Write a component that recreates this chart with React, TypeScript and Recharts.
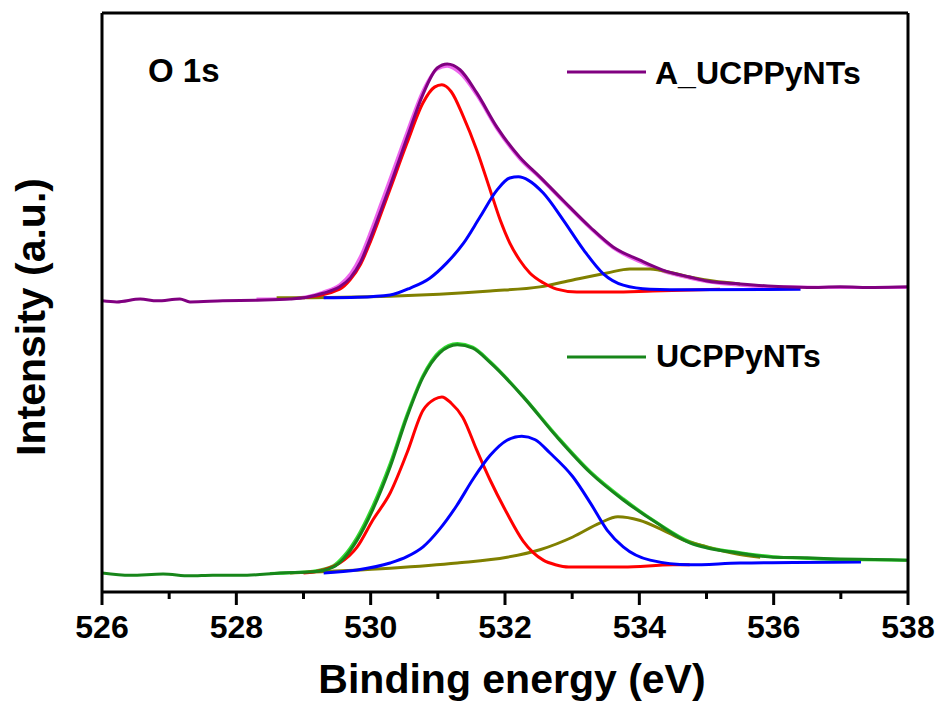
import React from 'react';
import { LineChart, Line, XAxis, YAxis } from 'recharts';

// ---------- tick values ----------
const xTicks = [526, 527, 528, 529, 530, 531, 532, 533, 534, 535, 536, 537, 538];

// ---------- A_UCPPyNTs (upper spectrum) ----------
const aRawE = [526.0, 526.22, 526.57, 526.82, 527.16, 527.31, 527.8, 528.31, 528.8, 529.05, 529.29, 529.54, 529.7, 529.85, 530.0, 530.15, 530.29, 530.54, 530.78, 530.99, 531.14, 531.33, 531.58, 531.88, 532.22, 532.52, 532.86, 533.27, 533.61, 534.01, 534.35, 534.75, 535.01, 535.5, 535.99, 536.5, 536.99, 537.5, 538.0];
const aRawI = [50.3, 50.1, 50.6, 50.3, 50.6, 50.1, 50.3, 50.4, 50.6, 50.9, 51.6, 52.7, 54.3, 57.0, 61.2, 65.8, 70.2, 78.4, 86.0, 90.5, 91.2, 90.2, 86.2, 80.3, 75.1, 71.7, 67.7, 63.0, 59.6, 57.3, 55.6, 54.4, 53.7, 53.2, 52.8, 52.6, 52.7, 52.6, 52.7];

const aFitE = [528.3, 528.8, 529.05, 529.29, 529.54, 529.7, 529.85, 530.0, 530.15, 530.29, 530.54, 530.78, 530.99, 531.14, 531.33, 531.58, 531.88, 532.22, 532.52, 532.86, 533.27, 533.61, 534.01, 534.35, 534.75, 535.01, 535.5, 535.99, 536.99, 537.98];
const aFitI = [50.6, 50.7, 51.0, 51.8, 53.1, 55.0, 58.0, 62.3, 67.0, 71.4, 79.4, 86.6, 90.3, 90.8, 89.6, 85.8, 80.0, 74.8, 71.5, 67.5, 62.8, 59.4, 57.0, 55.4, 54.2, 53.6, 53.0, 52.7, 52.6, 52.6];

const aPeak1E = [529.0, 529.54, 529.7, 529.85, 530.0, 530.15, 530.29, 530.54, 530.78, 530.95, 531.06, 531.2, 531.38, 531.58, 531.78, 531.93, 532.07, 532.22, 532.37, 532.57, 532.77, 533.07, 533.6, 534.2, 535.2];
const aPeak1I = [50.8, 52.3, 54.0, 56.6, 60.6, 65.2, 69.6, 77.5, 84.5, 87.2, 87.6, 86.4, 82.1, 76.3, 69.4, 64.2, 60.3, 57.3, 55.1, 53.4, 52.3, 51.8, 51.8, 52.0, 52.3];

const aPeak2E = [529.3, 529.8, 530.29, 530.59, 530.88, 531.13, 531.38, 531.63, 531.88, 532.07, 532.2, 532.35, 532.57, 532.87, 533.17, 533.46, 533.76, 534.16, 534.75, 536.4];
const aPeak2I = [50.8, 50.9, 51.3, 52.5, 54.2, 56.8, 60.2, 64.8, 69.4, 71.5, 71.7, 71.1, 68.9, 64.2, 59.1, 55.0, 53.0, 52.3, 52.2, 52.3];

const aPeak3E = [528.6, 530.29, 531.78, 532.52, 533.01, 533.52, 533.86, 534.16, 534.5, 534.75, 535.1, 535.5];
const aPeak3I = [50.8, 51.1, 52.0, 52.7, 53.9, 55.1, 55.8, 55.8, 55.1, 54.4, 53.7, 53.2];

// ---------- UCPPyNTs (lower spectrum) ----------
const uRawE = [526.0, 526.42, 526.91, 527.31, 527.65, 528.16, 528.65, 529.14, 529.44, 529.6, 529.8, 530.03, 530.29, 530.54, 530.78, 531.03, 531.29, 531.52, 531.78, 532.27, 532.77, 533.27, 533.76, 534.26, 534.75, 535.01, 535.5, 535.99, 536.5, 536.99, 537.5, 538.0];
const uRawI = [3.3, 2.9, 3.1, 2.8, 2.9, 2.9, 3.3, 3.5, 4.3, 5.8, 9.0, 14.2, 21.6, 30.2, 37.1, 41.3, 42.7, 42.1, 39.6, 33.7, 26.8, 20.6, 15.9, 11.9, 8.5, 7.6, 6.7, 6.0, 5.9, 5.7, 5.6, 5.5];

const uFitE = [528.5, 529.14, 529.44, 529.6, 529.8, 530.03, 530.29, 530.54, 530.78, 531.03, 531.29, 531.52, 531.78, 532.27, 532.77, 533.27, 533.76, 534.26, 534.75, 535.01, 535.5, 535.99, 536.5, 536.99, 537.98];
const uFitI = [3.2, 3.6, 4.5, 6.2, 9.5, 14.8, 22.2, 30.6, 37.4, 41.6, 42.9, 42.3, 39.8, 33.8, 27.0, 20.8, 16.1, 12.0, 8.7, 7.8, 6.8, 6.1, 5.8, 5.6, 5.5];

const uPeak1E = [529.0, 529.29, 529.54, 529.8, 530.03, 530.29, 530.54, 530.78, 530.95, 531.06, 531.2, 531.37, 531.58, 531.78, 532.03, 532.27, 532.42, 532.57, 532.75, 532.95, 533.76, 534.5, 534.75];
const uPeak1I = [3.3, 3.8, 5.0, 7.8, 12.4, 17.1, 24.0, 31.4, 33.3, 33.7, 32.6, 30.2, 24.5, 19.3, 13.6, 8.8, 6.8, 5.5, 4.7, 4.3, 4.3, 4.7, 4.7];

const uPeak2E = [529.3, 529.8, 530.29, 530.54, 530.78, 531.03, 531.28, 531.53, 531.78, 532.03, 532.25, 532.45, 532.67, 533.01, 533.27, 533.52, 533.76, 534.16, 534.75, 535.5, 537.3];
const uPeak2I = [3.3, 3.8, 5.0, 6.1, 7.8, 10.9, 14.9, 19.6, 23.6, 26.2, 26.9, 26.3, 24.0, 19.9, 15.4, 10.7, 7.8, 5.5, 4.7, 5.0, 5.2];

const uPeak3E = [528.8, 530.29, 531.29, 532.03, 532.52, 533.01, 533.41, 533.68, 534.0, 534.35, 534.65, 535.0, 535.4, 535.8];
const uPeak3I = [3.3, 4.1, 5.0, 6.0, 7.3, 9.5, 11.9, 13.0, 12.4, 10.7, 9.0, 7.8, 6.7, 6.0];

const zip = (es: number[], is: number[]) => es.map((e, i) => ({ x: e, y: is[i] }));

const FONT = '"Liberation Sans", Arial, sans-serif';

const series = [
  { key: 'aFit', data: zip(aFitE, aFitI), color: '#EE66EE' },
  { key: 'aP3', data: zip(aPeak3E, aPeak3I), color: '#808000' },
  { key: 'aP1', data: zip(aPeak1E, aPeak1I), color: '#FF0000' },
  { key: 'aP2', data: zip(aPeak2E, aPeak2I), color: '#0000FF' },
  { key: 'aRaw', data: zip(aRawE, aRawI), color: '#800080' },
  { key: 'uFit', data: zip(uFitE, uFitI), color: '#33DD33' },
  { key: 'uP3', data: zip(uPeak3E, uPeak3I), color: '#808000' },
  { key: 'uP1', data: zip(uPeak1E, uPeak1I), color: '#FF0000' },
  { key: 'uP2', data: zip(uPeak2E, uPeak2I), color: '#0000FF' },
  { key: 'uRaw', data: zip(uRawE, uRawI), color: '#17861A' },
];

const XTick = (props: any) => {
  const { x, y, payload } = props;
  const v = payload.value as number;
  const major = v % 2 === 0;
  return (
    <g>
      <line x1={x} x2={x} y1={y} y2={y + (major ? 13 : 7)} stroke="#000" strokeWidth={3} />
      {major && (
        <text x={x} y={y + 46} textAnchor="middle" fontFamily={FONT} fontWeight="bold" fontSize={32} fill="#000">
          {v}
        </text>
      )}
    </g>
  );
};

export default function App() {
  return (
    <div style={{ position: 'absolute', left: 0, top: 0, width: 942, height: 709, background: '#fff' }}>
      <LineChart
        width={942}
        height={709}
        margin={{ top: 12, right: 33, bottom: 116, left: 101 }}
      >
        <XAxis
          type="number"
          dataKey="x"
          domain={[526, 538]}
          ticks={xTicks}
          interval={0}
          allowDataOverflow
          height={1}
          tickSize={0}
          tickMargin={0}
          tickLine={false}
          tick={<XTick />}
          axisLine={{ stroke: '#000', strokeWidth: 3 }}
        />
        <XAxis
          xAxisId="top"
          orientation="top"
          type="number"
          dataKey="x"
          domain={[526, 538]}
          height={1}
          tick={false}
          tickLine={false}
          axisLine={{ stroke: '#000', strokeWidth: 3 }}
        />
        <YAxis
          type="number"
          domain={[0, 100]}
          allowDataOverflow
          width={1}
          tick={false}
          tickLine={false}
          axisLine={{ stroke: '#000', strokeWidth: 3 }}
        />
        <YAxis
          yAxisId="right"
          orientation="right"
          type="number"
          domain={[0, 100]}
          width={1}
          tick={false}
          tickLine={false}
          axisLine={{ stroke: '#000', strokeWidth: 3 }}
        />
        {series.map((s) => (
          <Line
            key={s.key}
            data={s.data}
            dataKey="y"
            type="monotone"
            stroke={s.color}
            strokeWidth={3}
            dot={false}
            activeDot={false}
            isAnimationActive={false}
          />
        ))}
      </LineChart>
      <svg
        width={942}
        height={709}
        style={{ position: 'absolute', left: 0, top: 0, pointerEvents: 'none' }}
      >
        <text x={148} y={82} fontFamily={FONT} fontWeight="bold" fontSize={33} fill="#000">O 1s</text>
        <line x1={567} x2={646} y1={72} y2={72} stroke="#800080" strokeWidth={3} />
        <text x={655} y={84} fontFamily={FONT} fontWeight="bold" fontSize={32} fill="#000">A_UCPPyNTs</text>
        <line x1={567} x2={646} y1={357} y2={357} stroke="#17861A" strokeWidth={3} />
        <text x={656} y={367} fontFamily={FONT} fontWeight="bold" fontSize={32} fill="#000">UCPPyNTs</text>
        <text x={512} y={693} textAnchor="middle" fontFamily={FONT} fontWeight="bold" fontSize={41} fill="#000">
          Binding energy (eV)
        </text>
        <text
          x={45}
          y={317}
          textAnchor="middle"
          transform="rotate(-90, 45, 317)"
          fontFamily={FONT}
          fontWeight="bold"
          fontSize={41}
          fill="#000"
        >
          Intensity (a.u.)
        </text>
      </svg>
    </div>
  );
}
